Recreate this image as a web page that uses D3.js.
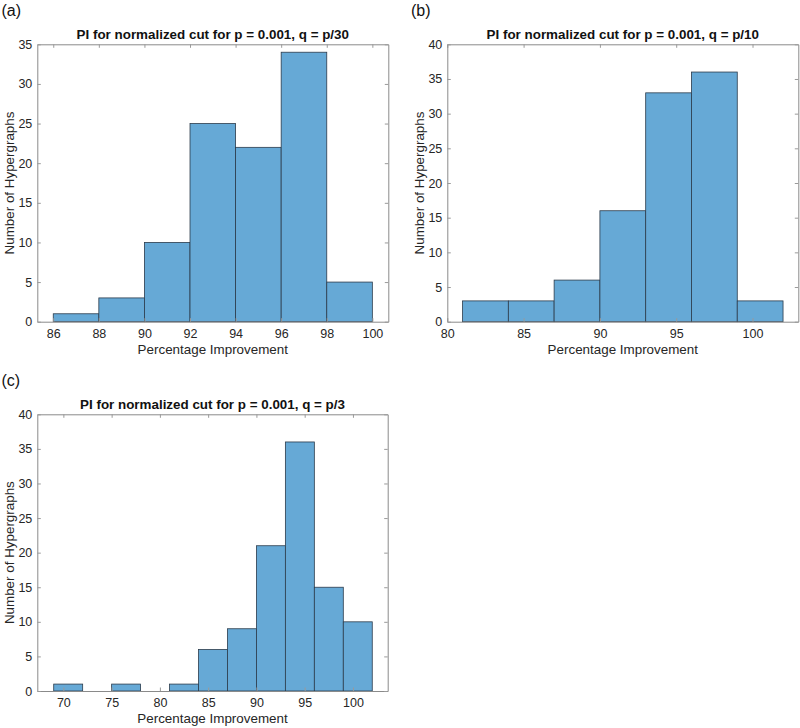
<!DOCTYPE html>
<html>
<head>
<meta charset="utf-8">
<script src="https://cdn.jsdelivr.net/npm/d3@7"></script>
<style>
body { margin: 0; background: #fff; }
text { font-family: "Liberation Sans", Arial, Helvetica, sans-serif; }
</style>
</head>
<body>
<svg id="chart" width="800" height="728"></svg>
<script>
// histogram data: bin edges and counts
var edgesA = [86, 88, 90, 92, 94, 96, 98, 100];
var countsA = [1, 3, 10, 25, 22, 34, 5];
var ticksXA = [86, 88, 90, 92, 94, 96, 98, 100];
var ticksYA = [0, 5, 10, 15, 20, 25, 30, 35];

var edgesB = [81, 84, 87, 90, 93, 96, 99, 102];
var countsB = [3, 3, 6, 16, 33, 36, 3];
var ticksXB = [80, 85, 90, 95, 100];
var ticksYB = [0, 5, 10, 15, 20, 25, 30, 35, 40];

var edgesC = [69, 72, 75, 78, 81, 84, 87, 90, 93, 96, 99, 102];
var countsC = [1, 0, 1, 0, 1, 6, 9, 21, 36, 15, 10];
var ticksXC = [70, 75, 80, 85, 90, 95, 100];
var ticksYC = [0, 5, 10, 15, 20, 25, 30, 35, 40];

var titles = [
    "PI for normalized cut for p = 0.001, q = p/30",
    "PI for normalized cut for p = 0.001, q = p/10",
    "PI for normalized cut for p = 0.001, q = p/3"
];
var letters = ["(a)", "(b)", "(c)"];

var svg = d3.select("#chart");

function drawPanel(o) {
    var x = d3.scaleLinear().domain(o.xdom).range([o.left, o.right]);
    var y = d3.scaleLinear().domain([0, o.ymax]).range([o.bottom, o.top]);
    var g = svg.append("g");

    var bins = o.counts.map(function(c, i) {
        return {x0: o.edges[i], x1: o.edges[i + 1], n: c};
    });

    g.selectAll("rect.bar")
        .data(bins)
        .enter()
        .append("rect")
        .attr("class", "bar")
        .attr("x", function(d) { return x(d.x0); })
        .attr("width", function(d) { return x(d.x1) - x(d.x0); })
        .attr("y", function(d) { return y(d.n); })
        .attr("height", function(d) { return y(0) - y(d.n); })
        .attr("fill", "#66a9d6")
        .attr("stroke", "#2b3b4b")
        .attr("stroke-width", 0.8);

    // axes with inward ticks, mirrored on top and right
    var tl = 3.5;
    var xb = g.append("g").attr("transform", "translate(0," + o.bottom + ")")
        .call(d3.axisBottom(x).tickValues(o.ticksX).tickSizeInner(-tl).tickSizeOuter(0).tickPadding(7));
    var xt = g.append("g").attr("transform", "translate(0," + o.top + ")")
        .call(d3.axisTop(x).tickValues(o.ticksX).tickSizeInner(-tl).tickSizeOuter(0).tickFormat(""));
    var yl = g.append("g").attr("transform", "translate(" + o.left + ",0)")
        .call(d3.axisLeft(y).tickValues(o.ticksY).tickSizeInner(-tl).tickSizeOuter(0).tickPadding(5));
    var yr = g.append("g").attr("transform", "translate(" + o.right + ",0)")
        .call(d3.axisRight(y).tickValues(o.ticksY).tickSizeInner(-tl).tickSizeOuter(0).tickFormat(""));

    [xb, xt, yl, yr].forEach(function(a) {
        a.select(".domain").attr("stroke", "#8a8a8a").attr("stroke-width", 1);
        a.selectAll(".tick line").attr("stroke", "#9a9a9a");
        a.selectAll(".tick text").attr("fill", "#262626").style("font-size", "12.5px");
    });

    g.append("text")
        .attr("x", (o.left + o.right) / 2)
        .attr("y", o.top - 5)
        .attr("text-anchor", "middle")
        .style("font-size", "13.4px")
        .style("font-weight", "bold")
        .attr("fill", "#111")
        .text(o.title);

    g.append("text")
        .attr("x", (o.left + o.right) / 2)
        .attr("y", o.bottom + 32)
        .attr("text-anchor", "middle")
        .style("font-size", "13.4px")
        .attr("fill", "#262626")
        .text("Percentage Improvement");

    g.append("text")
        .attr("transform", "translate(" + (o.left - 23) + "," + ((o.top + o.bottom) / 2) + ") rotate(-90)")
        .attr("text-anchor", "middle")
        .style("font-size", "13.4px")
        .attr("fill", "#262626")
        .text("Number of Hypergraphs");

    g.append("text")
        .attr("x", o.lx)
        .attr("y", o.ly)
        .style("font-size", "16px")
        .attr("fill", "#111")
        .text(o.letter);
}

drawPanel({edges: edgesA, counts: countsA, ticksX: ticksXA, ticksY: ticksYA,
    xdom: [85.3, 100.7], ymax: 35, left: 37.3, right: 388.3, top: 44.3, bottom: 321.7,
    title: titles[0], letter: letters[0], lx: 1.5, ly: 16});

drawPanel({edges: edgesB, counts: countsB, ticksX: ticksXB, ticksY: ticksYB,
    xdom: [80, 103], ymax: 40, left: 447.3, right: 798.3, top: 44.3, bottom: 321.7,
    title: titles[1], letter: letters[1], lx: 411, ly: 16});

drawPanel({edges: edgesC, counts: countsC, ticksX: ticksXC, ticksY: ticksYC,
    xdom: [67.3, 103.6], ymax: 40, left: 37.3, right: 387.7, top: 414.3, bottom: 691,
    title: titles[2], letter: letters[2], lx: 1.5, ly: 386});
</script>
</body>
</html>
